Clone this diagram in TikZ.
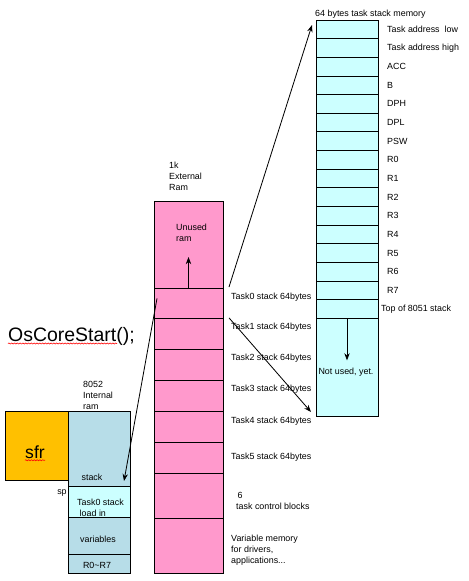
\documentclass[tikz,border=0pt]{standalone}
\usepackage{fontspec}
\setmainfont{Liberation Sans}
\usetikzlibrary{arrows.meta, calc, decorations.pathmorphing}
\definecolor{pinkram}{HTML}{FF99CC}
\definecolor{stackcyan}{HTML}{CCFFFF}
\definecolor{intblue}{HTML}{B7DDE8}
\definecolor{sfrorange}{HTML}{FFC000}
\newcommand{\pu}{0.03cm}
\tikzset{
  memcell/.style={draw, line width=0.7pt, anchor=north west, inner sep=0pt, outer sep=0pt},
  lbl/.style={font=\fontsize{7.6}{9.4}\selectfont, inner sep=0pt, align=left},
  ptr/.style={->, line width=0.7pt},
  spellmark/.style={red, line width=0.5pt, decorate,
    decoration={snake, amplitude=0.45pt, segment length=2.4pt}},
}
\begin{document}
\begin{tikzpicture}[x=\pu, y=-\pu, >=Stealth]
  \useasboundingbox (0,0) rectangle (468,581);
  % 64 byte task stack (right column)
  \foreach \reg [count=\i] in {Task address\ \ low, Task address high, ACC, B, DPH, DPL, PSW,
      R0, R1, R2, R3, R4, R5, R6, R7} {
    \node[memcell, fill=stackcyan, minimum width=62*\pu, minimum height=18.65*\pu]
      (s\i) at (316,{20+(\i-1)*18.65}) {};
    \node[lbl, anchor=west] (sl\i) at ($(s\i.east)+(9,0)$) {\reg};
  }
  \node[memcell, fill=stackcyan, minimum width=62*\pu, minimum height=18.65*\pu]
    (s16) at (316,299.75) {};
  \node[lbl, anchor=west] (sl16) at ($(s16.east)+(3,0)$) {Top of 8051 stack};
  \node[memcell, fill=stackcyan, minimum width=62*\pu, minimum height=97.6*\pu]
    (free) at (316,318.4) {};
  \node[lbl] (freetxt) at (346,372) {Not used, yet.};
  \node[lbl, anchor=base west] (stktitle) at ($(s1.north west)+(-1,-4)$) {64 bytes task stack memory};
  % 1k external ram (middle column)
  \node[memcell, fill=pinkram, minimum width=69*\pu, minimum height=87*\pu] (unused) at (154,201) {};
  \foreach \i in {0,...,5}
    \node[memcell, fill=pinkram, minimum width=69*\pu, minimum height=30.83*\pu]
      (t\i) at (154,{288+\i*30.83}) {};
  \node[memcell, fill=pinkram, minimum width=69*\pu, minimum height=45*\pu] (tcb) at (154,473) {};
  \node[memcell, fill=pinkram, minimum width=69*\pu, minimum height=55*\pu] (varmem) at (154,518) {};
  \node[lbl, anchor=west] (unusedtxt) at (176,233) {Unused\\ram};
  \node[lbl, anchor=west] (exttitle) at (169,176) {1k\\External\\Ram};
  \foreach \i/\y in {0/297, 1/327, 2/358, 3/389, 4/421, 5/457}
    \node[lbl, anchor=west] (tl\i) at (231,\y) {Task\i\ stack 64bytes};
  \node[lbl, anchor=west] (tcbl) at (236,501) {\,6\\task control blocks};
  \node[lbl, anchor=west] (varl) at (231,550) {Variable memory\\for drivers,\\applications...};
  % 8052 internal ram (left)
  \node[memcell, fill=sfrorange, minimum width=63*\pu, minimum height=69*\pu] (sfr) at (5,411) {};
  \node[font=\fontsize{15}{18}\selectfont, inner sep=0pt] (sfrtxt) at (35,452) {sfr};
  \node[memcell, fill=intblue, minimum width=62*\pu, minimum height=75*\pu] (istk) at (68,411) {};
  \node[memcell, fill=stackcyan, minimum width=62*\pu, minimum height=31*\pu] (iload) at (68,486) {};
  \node[memcell, fill=intblue, minimum width=62*\pu, minimum height=37*\pu] (ivar) at (68,517) {};
  \node[memcell, fill=intblue, minimum width=62*\pu, minimum height=19*\pu] (ireg) at (68,554) {};
  \node[lbl] (istktxt) at (92,477) {stack};
  \node[lbl] (sptxt) at (62,493) {sp};
  \node[lbl, anchor=west] (iloadtxt) at (77,508) {Task0 stack\\\ load in};
  \node[lbl] (ivartxt) at (98,539) {variables};
  \node[lbl] (iregtxt) at (97,565) {R0\textasciitilde R7};
  \node[lbl, anchor=west] (inttitle) at (83,395) {8052\\Internal\\ram};
  % call
  \node[font=\fontsize{16.6}{20}\selectfont, inner sep=0pt, anchor=base west] (oscs) at (8,341.5) {OsCoreStart();};
  \draw[spellmark] ($(oscs.base west)+(0,2)$) -- +(109,0);
  \draw[spellmark] ($(sfrtxt.base west)+(0,2)$) -- +(20,0);
  % pointers
  \draw[ptr] (t0.north) -- ($(unused.south)+(0,-31)$);
  \draw[ptr] (free.north) -- ($(free.north)+(0,42)$);
  \draw[ptr] ($(t0.north east)+(6,-1)$) -- ($(s1.north west)+(-4,5)$);
  \draw[ptr] ($(t0.south east)+(6,-1)$) -- ($(free.south west)+(-5,-4)$);
  \draw[ptr] ($(t0.west)+(3,-5)$) -- ($(istk.south east)+(-6,-5)$);
\end{tikzpicture}
\end{document}
